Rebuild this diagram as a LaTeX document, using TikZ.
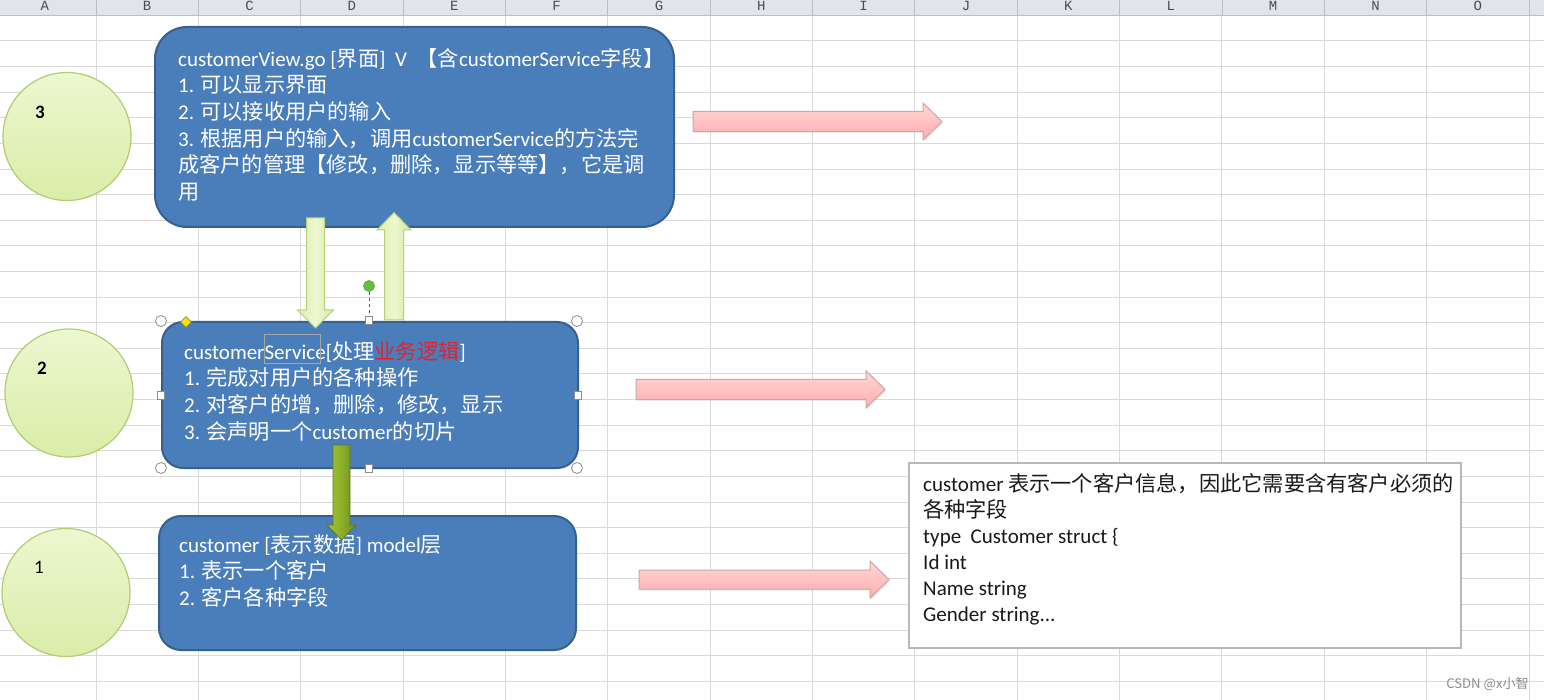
\documentclass[tikz,border=0pt]{standalone}
\usepackage{fontspec}
\setmainfont{Carlito}
\newfontfamily\cjkfont{Noto Sans CJK SC}[Scale=1.01]
\newfontfamily\hdrfont{Liberation Mono}
\usetikzlibrary{shadows,shapes.geometric}
\XeTeXinterchartokenstate=1
\newXeTeXintercharclass\CJKcls
\makeatletter
\def\setCJKrange#1#2{\count@=#1\relax\loop\XeTeXcharclass\count@=\CJKcls\ifnum\count@<#2\advance\count@\@ne\repeat}
\setCJKrange{"3000}{"303F}
\setCJKrange{"4E00}{"9FFF}
\setCJKrange{"FF00}{"FFEF}
\makeatother
\XeTeXinterchartoks 0 \CJKcls={\cjkfont}
\XeTeXinterchartoks 4095 \CJKcls={\cjkfont}
\XeTeXinterchartoks \CJKcls 0={\rmfamily}
\XeTeXinterchartoks \CJKcls 4095={\rmfamily}
\definecolor{gridc}{HTML}{D9D9D9}
\definecolor{hdrbg}{HTML}{E1E4EA}
\definecolor{hdrln}{HTML}{B9BDC6}
\definecolor{boxblue}{HTML}{4A7EBB}
\definecolor{boxedge}{HTML}{36608F}
\definecolor{redtxt}{HTML}{E8202A}
\definecolor{ballTop}{HTML}{EDF7D0}
\definecolor{ballBot}{HTML}{D9EDA8}
\definecolor{ballEdge}{HTML}{B3CB72}
\definecolor{lgL}{HTML}{DDEEAA}
\definecolor{lgM}{HTML}{EEF7D2}
\definecolor{lgR}{HTML}{D5E99E}
\definecolor{lgEdge}{HTML}{B5CF7A}
\definecolor{dgL}{HTML}{A2C435}
\definecolor{dgM}{HTML}{8CAF28}
\definecolor{dgR}{HTML}{6C8A1C}
\definecolor{dgEdge}{HTML}{5E7A16}
\newcommand\hblock[7]{\path[#1] (#2,{#5-#6}) -- (#3,{#5-#6}) -- (#3,{#5-#7}) -- (#4,#5) -- (#3,{#5+#7}) -- (#3,{#5+#6}) -- (#2,{#5+#6}) -- cycle;}
\newcommand\vblock[7]{\path[#1] ({#2-#6},#3) -- ({#2-#6},#4) -- ({#2-#7},#4) -- (#2,#5) -- ({#2+#7},#4) -- ({#2+#6},#4) -- ({#2+#6},#3) -- cycle;}
\tikzset{
  gridline/.style={draw=gridc, line width=1pt},
  hdrtxt/.style={anchor=base, inner sep=0pt, text=black!70, font=\hdrfont\fontsize{14}{14}\selectfont},
  ball/.style={circle, minimum size=128pt, inner sep=0pt, top color=ballTop, bottom color=ballBot, draw=ballEdge, line width=1.2pt},
  numlbl/.style={inner sep=0pt, text=black, font=\fontsize{19}{19}\selectfont},
  bluebox/.style={fill=boxblue, draw=boxedge, line width=2pt},
  boxtext/.style={anchor=north west, inner sep=0pt, align=left, text=white, font=\fontsize{21}{26.7}\selectfont},
  notetext/.style={anchor=north west, inner sep=0pt, align=left, text=black!90, font=\fontsize{21}{26}\selectfont},
  notebox/.style={fill=white, draw=black!28, line width=1.2pt},
  pinkarrow/.style={top color=red!16!white, bottom color=red!32!white, draw=red!45!black!35!white, line width=1pt, drop shadow={shadow xshift=1.2pt, shadow yshift=-1.5pt, opacity=.18}},
  lgarrow/.style={left color=lgL, right color=lgR, middle color=lgM, draw=lgEdge, line width=1pt},
  dgarrow/.style={left color=dgL, right color=dgR, middle color=dgM, draw=dgEdge, line width=0.8pt},
  handle/.style={circle, minimum size=11pt, inner sep=0pt, fill=white, draw=black!45, line width=0.8pt},
  sqhandle/.style={rectangle, minimum width=7pt, minimum height=8pt, inner sep=0pt, fill=white, draw=black!45, line width=0.8pt},
}
\begin{document}
\begin{tikzpicture}[x=1pt,y=-1pt]
\useasboundingbox (0,0) rectangle (1544,700);
\fill[white] (0,0) rectangle (1544,700);
% spreadsheet grid
\foreach \k in {1,...,27} \draw[gridline] (0,{15.3+25.62*\k}) -- (1544,{15.3+25.62*\k});
\foreach \k in {0,...,14} \draw[gridline] ({96+102.36*\k},15.3) -- ({96+102.36*\k},700);
% header row
\fill[hdrbg] (0,0) rectangle (1544,15.3);
\draw[draw=hdrln, line width=1.2pt] (0,15.3) -- (1544,15.3);
\foreach \k in {0,...,14} \draw[draw=hdrln, line width=0.8pt] ({96+102.36*\k},0) -- ({96+102.36*\k},15.3);
\foreach \L [count=\i from 0] in {A,...,O} \node[hdrtxt] (h\L) at ({44.8+102.36*\i},10.5) {\L};
% circles
\node[ball] (c3) at (67,136.5) {};
\node[ball] (c2) at (69,393) {};
\node[ball] (c1) at (66,592.5) {};
\node[numlbl, font=\bfseries\fontsize{19}{19}\selectfont] (n3) at (40,112) {3};
\node[numlbl, font=\bfseries\fontsize{19}{19}\selectfont] (n2) at (42,368) {2};
\node[numlbl] (n1) at (39,567) {1};
% blue boxes
\node[bluebox, minimum width=519pt, minimum height=200pt, rounded corners=32pt] (view) at (414.5,127) {};
\node[bluebox, minimum width=416pt, minimum height=146pt, rounded corners=21pt] (service) at (370,395) {};
\node[bluebox, minimum width=417pt, minimum height=134pt, rounded corners=22pt] (model) at (367.5,583) {};
\node[boxtext] (viewtxt) at (178,48) {customerView.go [界面]\ \ V\ \ 【含customerService字段】\\1. 可以显示界面\\2. 可以接收用户的输入\\3. 根据用户的输入，调用customerService的方法完\\成客户的管理【修改，删除，显示等等】，它是调\\用};
\node[boxtext] (servicetxt) at (184,341) {customerService[处理\textcolor{redtxt}{业务逻辑}]\\1. 完成对用户的各种操作\\2. 对客户的增，删除，修改，显示\\3. 会声明一个customer的切片};
\node[boxtext] (modeltxt) at (179,534) {customer [表示数据] model层\\1. 表示一个客户\\2. 客户各种字段};
% note box
\node[notebox, minimum width=552pt, minimum height=185pt] (note) at (1185,555.5) {};
\node[notetext] (notetxt) at (923,473) {customer 表示一个客户信息，因此它需要含有客户必须的\\各种字段\\type\ \ Customer struct \{\\Id int\\Name string\\Gender string...};
% pink arrows
\hblock{pinkarrow}{693}{923}{942}{121.5}{10}{18.5}
\hblock{pinkarrow}{636}{866}{885}{389.3}{10}{18.5}
\hblock{pinkarrow}{639}{870}{889}{579.5}{9.5}{18.5}
% green arrows between layers
\vblock{lgarrow}{315.5}{218}{310}{328}{9}{18}
\vblock{lgarrow}{394}{320}{230}{212.5}{9.5}{17}
\vblock{dgarrow}{341.5}{445}{525}{540}{8.5}{14.5}
% selection handles of the service box
\draw[draw=black!35, line width=0.6pt] (264,334) rectangle (320,363);
\draw[draw=black!65, line width=0.8pt, dashed] (369,292) -- (369,316);
\node[handle, fill=green!55!lime!70!black!80, draw=green!40!black!60] (rot) at (369,286) {};
\node[handle] (hnw) at (161,321) {};
\node[handle] (hne) at (577,321) {};
\node[handle] (hsw) at (161,468) {};
\node[handle] (hse) at (577,468) {};
\node[sqhandle] (hn) at (369,320) {};
\node[sqhandle] (hs) at (369,468) {};
\node[sqhandle] (hw) at (161,395) {};
\node[sqhandle] (he) at (578,395) {};
\node[diamond, shape aspect=1, minimum size=11pt, inner sep=0pt, fill=yellow!85!orange, draw=yellow!50!black, line width=0.6pt] (adj) at (186,322) {};
% watermark
\node[anchor=east, inner sep=0pt, text=black!45, font=\cjkfont\fontsize{13}{13}\selectfont] (wm) at (1529,684) {CSDN @x小智};
\end{tikzpicture}
\end{document}
